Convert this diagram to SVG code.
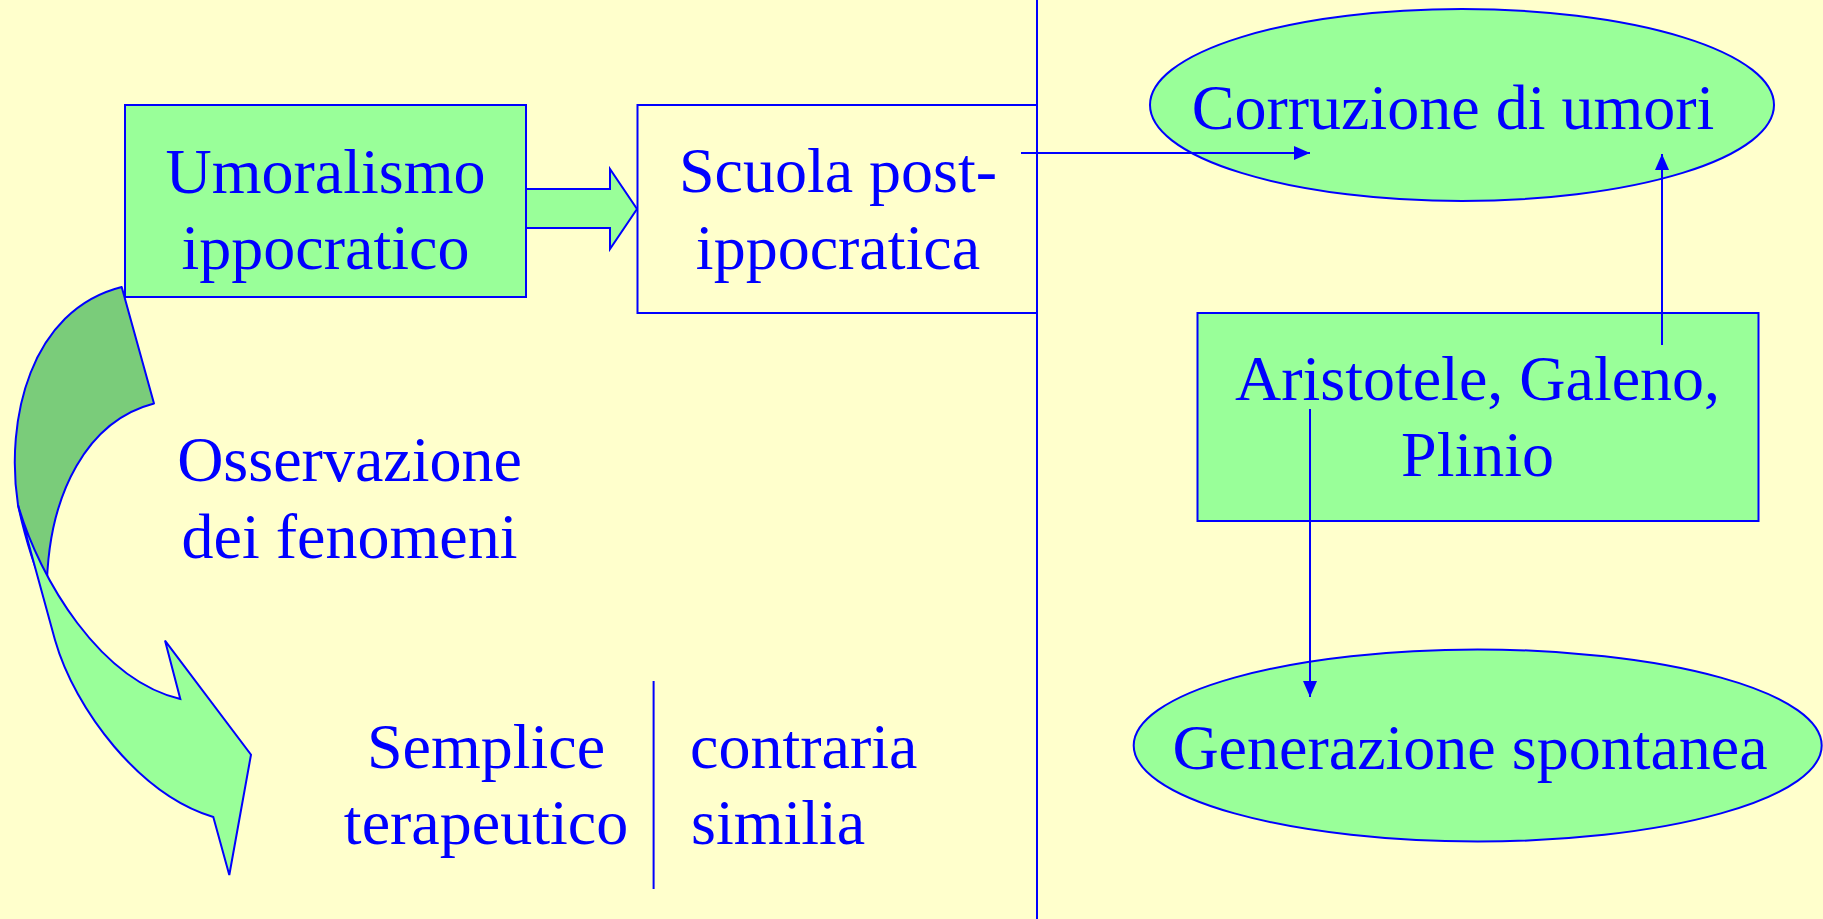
<svg xmlns="http://www.w3.org/2000/svg" width="1823" height="919" viewBox="0 0 1823 919">
<defs>
<style>
.t{font-family:"Liberation Serif","Times New Roman",serif;font-size:64px;fill:#0000FF;}
.box{fill:#99FF99;stroke:#0000FF;stroke-width:2;}
.ln{stroke:#0000FF;stroke-width:2;fill:none;}
</style>
<marker id="ah" markerUnits="userSpaceOnUse" markerWidth="18" markerHeight="16" refX="16" refY="7" orient="auto">
<path d="M0,0 L16,7 L0,14 Z" fill="#0000FF"/>
</marker>
</defs>
<rect width="1823" height="919" fill="#FFFFCC"/>

<g id="curved-arrow">
<path d="M121.7,287 L154,403.5 C90,420 47,490 46.7,594 Q30,560 18,505 C5,420 30,310 121.7,287 Z" fill="#7ACC7A" stroke="#0000FF" stroke-width="2" stroke-linejoin="round"/>
<path d="M18,505 C40,580 100,680 180.3,699 L165,640.6 L251,754.7 L229.3,875 L213.3,817 C140,795 75,710 55,640 Z" fill="#99FF99" stroke="#0000FF" stroke-width="2" stroke-linejoin="miter"/>
</g>

<g id="umoralismo">
<rect class="box" x="125" y="105" width="401" height="192"/>
<text class="t" x="325.5" y="192.5" text-anchor="middle">Umoralismo</text>
<text class="t" x="325.5" y="269" text-anchor="middle">ippocratico</text>
</g>

<g id="block-arrow">
<polygon points="526,189 610,189 610,169 637,209 610,249 610,228 526,228" fill="#99FF99" stroke="#0000FF" stroke-width="2"/>
</g>

<g id="scuola">
<path class="ln" d="M1037,105 L637.5,105 L637.5,313 L1037,313"/>
<text class="t" x="838" y="192" text-anchor="middle">Scuola post-</text>
<text class="t" x="838" y="269" text-anchor="middle">ippocratica</text>
</g>

<g id="divider">
<line class="ln" x1="1037" y1="0" x2="1037" y2="919"/>
</g>

<g id="osservazione">
<text class="t" x="349.5" y="481" text-anchor="middle">Osservazione</text>
<text class="t" x="349.5" y="558" text-anchor="middle">dei fenomeni</text>
</g>

<g id="semplice">
<text class="t" x="486" y="768" text-anchor="middle">Semplice</text>
<text class="t" x="486" y="844" text-anchor="middle">terapeutico</text>
<line class="ln" x1="653.6" y1="681" x2="653.6" y2="889"/>
<text class="t" x="690" y="768">contraria</text>
<text class="t" x="691" y="844">similia</text>
</g>

<g id="corruzione">
<ellipse class="box" cx="1462" cy="105" rx="312" ry="96"/>
<text class="t" x="1453" y="129" text-anchor="middle">Corruzione di umori</text>
</g>

<g id="aristotele">
<rect class="box" x="1197.5" y="313" width="561" height="208"/>
<text class="t" x="1477.5" y="400" text-anchor="middle">Aristotele, Galeno,</text>
<text class="t" x="1477.5" y="476" text-anchor="middle">Plinio</text>
</g>

<g id="generazione">
<ellipse class="box" cx="1477.7" cy="745.5" rx="344" ry="96"/>
<text class="t" x="1470" y="769" text-anchor="middle">Generazione spontanea</text>
</g>

<g id="connectors">
<line class="ln" x1="1021" y1="153" x2="1310" y2="153" marker-end="url(#ah)"/>
<line class="ln" x1="1662" y1="345" x2="1662" y2="154" marker-end="url(#ah)"/>
<line class="ln" x1="1310" y1="409" x2="1310" y2="697" marker-end="url(#ah)"/>
</g>
</svg>
